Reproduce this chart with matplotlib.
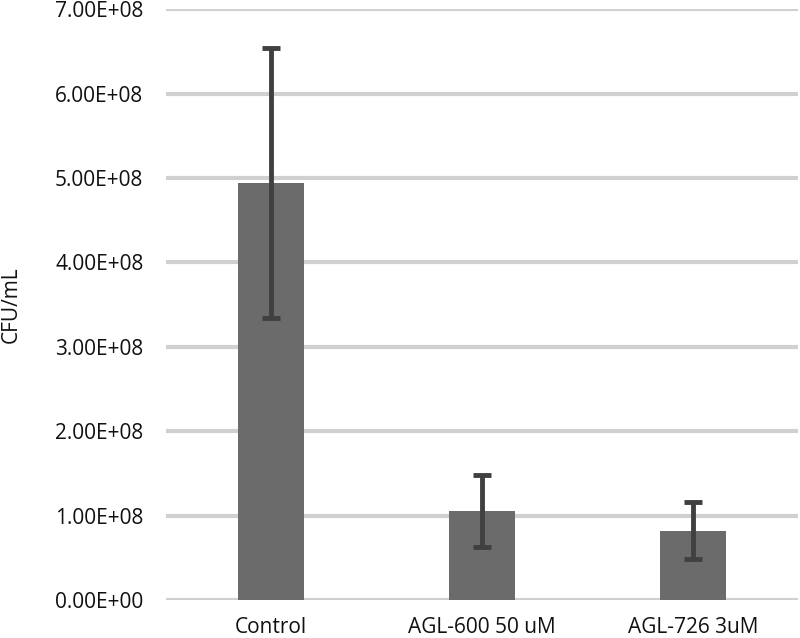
import matplotlib
matplotlib.use("Agg")
from matplotlib import pyplot as plt
from matplotlib.ticker import FuncFormatter

# data
groups = ["Control", "AGL-600 50 uM", "AGL-726 3uM"]
cfu = [4.945e8, 1.055e8, 0.82e8]
cfu_err = [1.6e8, 0.43e8, 0.34e8]

plt.rcParams['font.family'] = ['Open Sans', 'DejaVu Sans']

fig = plt.figure(figsize=(8, 6.38), dpi=100)
ax = fig.add_axes([0.207, 0.0596, 0.791, 0.926])

x = list(range(len(groups)))
ax.bar(x, cfu, width=0.31, color="#6b6b6b", zorder=2,
       yerr=cfu_err, ecolor="#404040",
       error_kw=dict(elinewidth=3.5, capsize=6.5, capthick=3.5))

ax.set_xlim(-0.5, 2.5)
ax.set_ylim(0, 7e8)
ax.set_yticks([i * 1e8 for i in range(8)])
ax.yaxis.set_major_formatter(FuncFormatter(lambda v, p: "%.2E" % v))
ax.set_xticks(x)
ax.set_xticklabels(groups)

ax.grid(axis="y", color="#d0d0d0", linewidth=3, zorder=0)
ax.set_axisbelow(True)
for s in ax.spines.values():
    s.set_visible(False)
ax.tick_params(length=0, labelsize=15, colors="#111111")
ax.tick_params(axis="x", pad=12)
ax.tick_params(axis="y", pad=16)

ax.set_ylabel("CFU/mL", fontsize=15, color="#111111")
ax.yaxis.set_label_coords(-0.227, 0.5)

fig.savefig("out.png", dpi=100)
